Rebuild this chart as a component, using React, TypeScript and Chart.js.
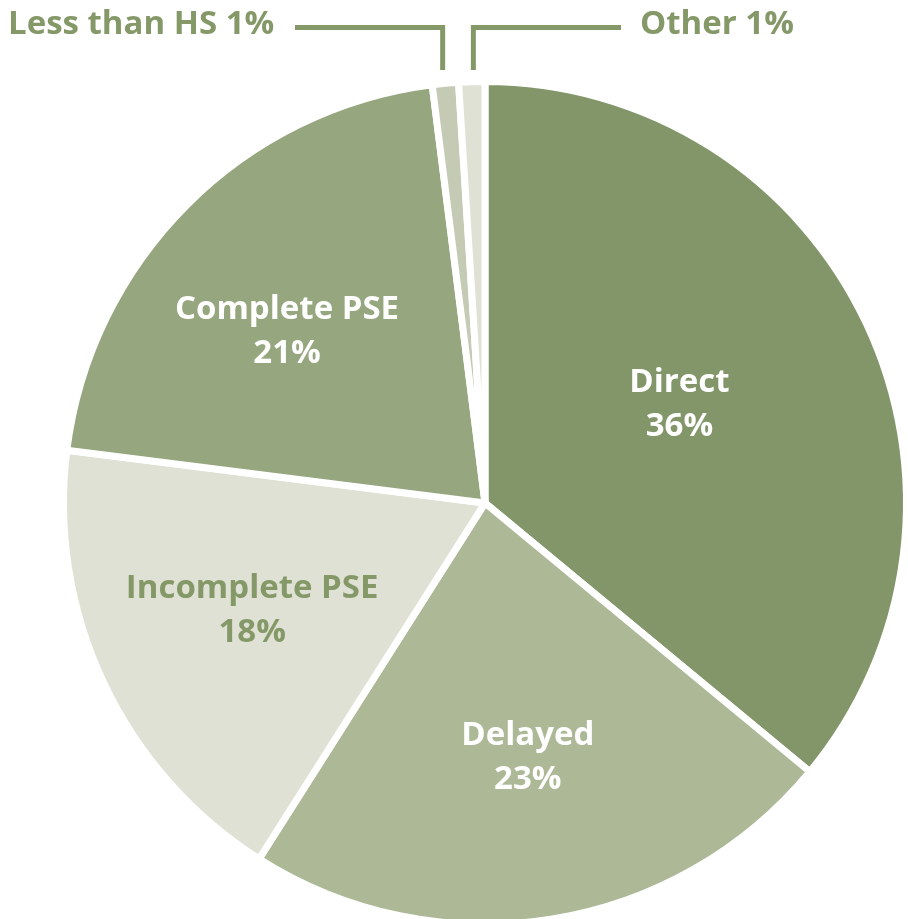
import React, { useEffect, useRef } from "react";
import { Chart, registerables } from "chart.js";

Chart.register(...registerables);

const categories = ["Direct", "Delayed", "Incomplete PSE", "Complete PSE", "Less than HS", "Other"];
const values = [36, 23, 18, 21, 1, 1];
const percentLabels = ["36%", "23%", "18%", "21%", "1%", "1%"];
const sliceColors = ["#82966A", "#ACB896", "#DFE1D4", "#96A67E", "#C4CAB4", "#DFE1D4"];
const labelColors = ["#FFFFFF", "#FFFFFF", "#859968", "#FFFFFF", "#859968", "#859968"];

const GREEN = "#859968";
const FONT = "700 33px 'Open Sans'";
const BORDER = 7;

const labelPlugin = {
  id: "pieLabels",
  afterDraw(chart: any) {
    const ctx = chart.ctx as CanvasRenderingContext2D;
    const meta = chart.getDatasetMeta(0);
    // radial placement (fraction of visible radius) and angular nudge (degrees)
    const fracs = [0.512, 0.641, 0.623, 0.612];
    const nudges = [0.5, -0.2, -1.4, -5.7];
    ctx.save();
    ctx.font = FONT;
    ctx.textAlign = "center";
    ctx.textBaseline = "alphabetic";
    meta.data.forEach((arc: any, i: number) => {
      if (i > 3) return;
      const { x, y, startAngle, endAngle, outerRadius } = arc.getProps(
        ["x", "y", "startAngle", "endAngle", "outerRadius"],
        true
      );
      const mid = (startAngle + endAngle) / 2 + (nudges[i] * Math.PI) / 180;
      const r = (outerRadius - BORDER / 2) * fracs[i];
      const cx = x + Math.cos(mid) * r;
      const cy = y + Math.sin(mid) * r;
      ctx.fillStyle = labelColors[i];
      ctx.fillText(categories[i], cx, cy - 22);
      ctx.fillText(percentLabels[i], cx, cy + 22);
    });

    // callouts for the two small slices
    const lineY = 27.5;
    const lineBottom = 70;
    ctx.strokeStyle = GREEN;
    ctx.lineWidth = 5;
    ctx.lineCap = "butt";
    ctx.lineJoin = "miter";
    [4, 5].forEach((i) => {
      const arc = meta.data[i];
      const { x, startAngle, endAngle, outerRadius } = arc.getProps(
        ["x", "startAngle", "endAngle", "outerRadius"],
        true
      );
      const mid = (startAngle + endAngle) / 2;
      const lx = x + Math.cos(mid) * (outerRadius - BORDER / 2) + (i === 4 ? -3 : 1.5);
      ctx.beginPath();
      ctx.moveTo(i === 4 ? 295 : 621, lineY);
      ctx.lineTo(lx, lineY);
      ctx.lineTo(lx, lineBottom);
      ctx.stroke();
      ctx.fillStyle = GREEN;
      ctx.textAlign = "left";
      const text = categories[i] + " " + percentLabels[i];
      ctx.fillText(text, i === 4 ? 8 : 640, 34);
    });
    ctx.restore();
  },
};

export default function App() {
  const ref = useRef<HTMLCanvasElement | null>(null);
  useEffect(() => {
    if (!ref.current) return;
    const chart = new Chart(ref.current, {
      type: "pie",
      data: {
        labels: categories,
        datasets: [
          {
            data: values,
            backgroundColor: sliceColors,
            borderColor: "#FFFFFF",
            borderWidth: BORDER,
          },
        ],
      },
      options: {
        responsive: false,
        animation: false,
        layout: { padding: { left: 60, top: 78, right: 10, bottom: 12 } },
        plugins: {
          legend: { display: false },
          tooltip: { enabled: false },
        },
      },
      plugins: [labelPlugin],
    });
    return () => chart.destroy();
  }, []);
  return (
    <div
      style={{
        position: "fixed",
        left: 0,
        top: 0,
        width: 908,
        height: 919,
        overflow: "hidden",
        background: "#FFFFFF",
      }}
    >
      <canvas ref={ref} width={920} height={940} style={{ display: "block" }} />
    </div>
  );
}
